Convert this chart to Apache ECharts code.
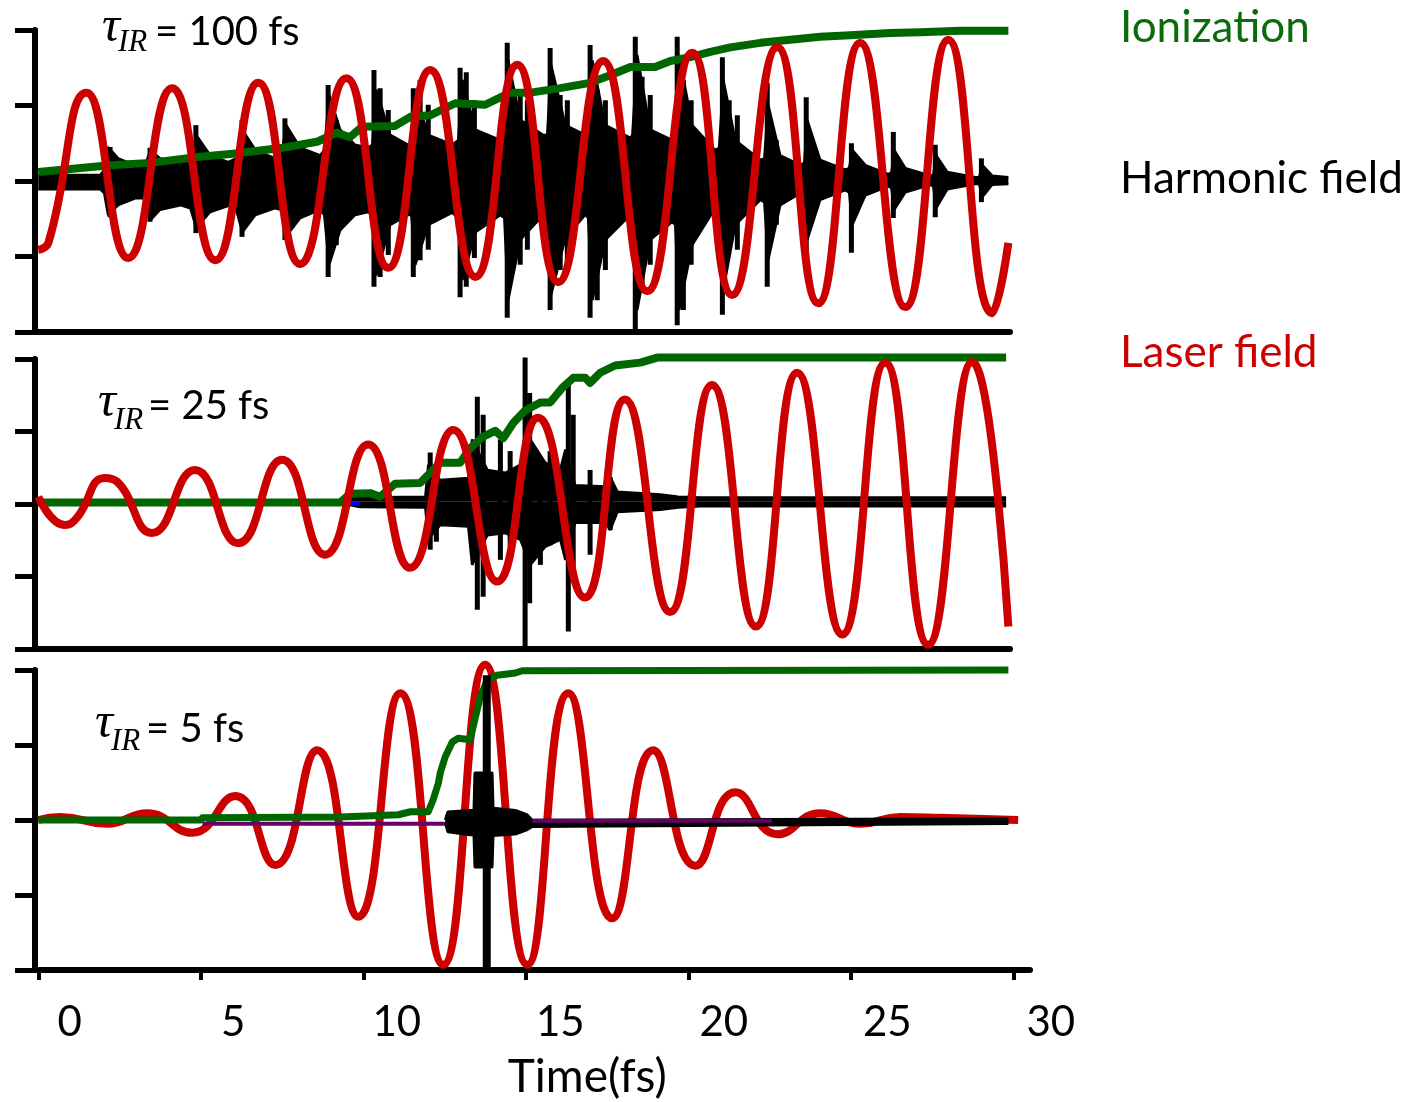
<!DOCTYPE html>
<html>
<head>
<meta charset="utf-8">
<script src="https://cdn.jsdelivr.net/npm/echarts@6.0.0/dist/echarts.min.js"></script>
<style>
  html, body { margin: 0; padding: 0; background: #fff; }
  #chart { width: 1414px; height: 1102px; }
</style>
</head>
<body>
<div id="chart"></div>
<script>
// time axis (fs)
const timeTicks = [0, 5, 10, 15, 20, 25, 30];

// ---- panel 1 : tau = 100 fs ----
const laser1 = [[0.00,-0.91],[0.31,-0.82],[1.48,1.17],[2.77,-1.02],[4.12,1.23],[5.45,-1.05],[6.77,1.30],[8.06,-1.10],
  [9.48,1.36],[10.77,-1.15],[12.06,1.47],[13.45,-1.27],[14.74,1.54],[16.00,-1.34],[17.38,1.59],[18.74,-1.46],
  [20.12,1.70],[21.35,-1.51],[22.74,1.77],[24.00,-1.62],[25.29,1.83],[26.68,-1.67],[28.00,1.87],[29.35,-1.75],[29.85,-0.82]];
const ion1 = [[0,0.12],[2.21,0.21],[3.44,0.24],[4.98,0.32],[5.99,0.36],[7.53,0.44],[8.58,0.52],[9.19,0.64],[9.59,0.58],
  [9.96,0.72],[10.98,0.73],[11.45,0.85],[12.06,0.87],[12.83,1.03],[13.75,1.01],[14.52,1.17],[15.14,1.17],[16.06,1.23],
  [16.98,1.30],[17.60,1.40],[18.22,1.51],[18.98,1.51],[19.45,1.59],[20.06,1.64],[20.68,1.71],[21.29,1.77],[22.22,1.83],
  [23.14,1.87],[24.06,1.91],[24.98,1.93],[26.22,1.96],[27.14,1.97],[28.37,1.99],[29.85,1.99]];
// harmonic field envelope: [t, upper, lower]
const harmBand1 = [[0,0.08,-0.11],[1.91,0.08,-0.11],[2.03,0.15,-0.16],[2.15,0.45,-0.45],[2.46,0.30,-0.32],[2.98,0.21,-0.23],
  [3.29,0.21,-0.23],[3.45,0.41,-0.52],[3.75,0.30,-0.38],[4.37,0.24,-0.32],[4.68,0.28,-0.36],[4.86,0.61,-0.62],[5.29,0.34,-0.41],
  [5.85,0.25,-0.33],[6.09,0.30,-0.38],[6.28,0.68,-0.68],[6.68,0.41,-0.45],[7.29,0.30,-0.36],[7.48,0.34,-0.38],[7.63,0.74,-0.73],
  [8.06,0.44,-0.49],[8.68,0.34,-0.38],[8.80,0.41,-0.45],[8.95,1.14,-1.11],[9.29,0.68,-0.65],[9.75,0.48,-0.45],[10.15,0.44,-0.41],
  [10.28,0.48,-0.45],[10.40,1.21,-1.25],[10.83,0.61,-0.58],[11.38,0.48,-0.45],[11.48,0.48,-0.45],[11.60,1.14,-1.11],
  [12.00,0.61,-0.58],[12.74,0.48,-0.42],[12.92,0.54,-0.49],[13.05,1.34,-1.31],[13.45,0.68,-0.68],[14.22,0.54,-0.45],
  [14.34,0.57,-0.49],[14.46,1.60,-1.58],[14.83,0.81,-0.78],[15.54,0.61,-0.45],[15.66,0.61,-0.49],[15.78,1.54,-1.51],
  [16.22,0.74,-0.75],[16.83,0.61,-0.45],[16.92,0.64,-0.49],[17.05,1.60,-1.58],[17.45,0.74,-0.78],[18.22,0.57,-0.45],
  [18.28,0.61,-0.52],[18.43,1.67,-1.71],[18.83,0.68,-0.78],[19.51,0.54,-0.54],[19.60,0.61,-0.58],[19.72,1.67,-1.71],
  [20.12,0.74,-0.85],[20.83,0.41,-0.36],[20.95,0.44,-0.38],[21.08,1.34,-1.44],[21.45,0.54,-0.58],[22.22,0.28,-0.25],
  [22.34,0.30,-0.28],[22.46,1.01,-1.05],[22.83,0.34,-0.32],[23.45,0.21,-0.16],[23.57,0.24,-0.19],[23.66,0.81,-0.78],
  [24.06,0.28,-0.25],[24.83,0.15,-0.12],[24.95,0.17,-0.15],[25.05,0.41,-0.58],[25.45,0.21,-0.19],[26.15,0.09,-0.07],
  [26.25,0.11,-0.09],[26.34,0.41,-0.38],[26.68,0.17,-0.15],[27.45,0.07,-0.05],[27.54,0.08,-0.07],[27.63,0.34,-0.36],
  [27.97,0.12,-0.11],[28.83,0.05,-0.04],[28.95,0.05,-0.04],[29.05,0.21,-0.21],[29.35,0.07,-0.05],[29.85,0.05,-0.04]];
const harmSpike1 = [[2.21,0.45,-0.48],[3.44,0.44,-0.54],[4.85,0.74,-0.69],[6.27,0.81,-0.74],[7.59,0.83,-0.78],
  [8.92,1.27,-1.27],[9.17,0.81,-0.85],[9.28,0.64,-0.65],[10.33,1.47,-1.40],[10.52,1.23,-1.27],[10.77,0.94,-0.98],
  [11.54,1.23,-1.27],[11.75,1.34,-1.05],[12.00,1.01,-0.91],[12.98,1.50,-1.54],[13.17,1.44,-1.40],[13.42,1.07,-1.02],
  [14.43,1.83,-1.81],[14.62,1.18,-1.09],[14.83,1.14,-1.11],[15.05,1.07,-0.91],[15.75,1.76,-1.71],[16.06,1.14,-1.18],
  [16.28,1.07,-1.07],[16.98,1.80,-1.81],[17.20,1.21,-1.58],[17.45,1.07,-1.18],[18.37,1.91,-1.97],[18.58,1.38,-1.48],
  [18.83,1.14,-1.11],[19.66,1.91,-1.91],[19.85,1.34,-1.71],[20.09,1.07,-1.11],[21.05,1.64,-1.77],[21.26,1.07,-0.65],
  [21.51,0.87,-0.91],[22.43,1.30,-1.40],[22.71,0.54,-0.58],[23.63,1.11,-0.95],[25.02,0.50,-0.95],[26.31,0.65,-0.49],
  [27.60,0.48,-0.48],[29.02,0.30,-0.28]];

// ---- panel 2 : tau = 25 fs ----
const laser2 = [[0,0.07],[0.82,-0.32],[1.19,-0.22],[2.05,0.33],[2.42,0.28],[3.50,-0.43],[4.82,0.44],[6.15,-0.57],
  [7.50,0.58],[8.82,-0.73],[10.15,0.79],[11.44,-0.91],[12.77,0.99],[14.12,-1.10],[15.38,1.16],[16.82,-1.32],
  [18.05,1.41],[19.44,-1.52],[20.73,1.61],[22.08,-1.72],[23.35,1.78],[24.74,-1.83],[26.06,1.92],[27.38,-1.97],
  [28.74,1.93],[29.85,-1.72]];
const ion2 = [[0,-0.01],[9.29,-0.01],[9.60,0.11],[10.21,0.12],[10.52,0.07],[10.98,0.25],[11.75,0.26],[12.06,0.40],
  [12.37,0.54],[12.98,0.54],[13.29,0.74],[13.69,0.90],[14.06,0.98],[14.31,0.88],[14.62,1.09],[14.98,1.26],[15.45,1.37],
  [15.75,1.37],[16.12,1.57],[16.46,1.71],[16.83,1.71],[16.98,1.64],[17.29,1.78],[17.75,1.88],[18.52,1.92],[19.05,1.99],
  [29.78,1.99]];
const harmBand2 = [[9.44,0.03,-0.03],[9.90,0.06,-0.07],[11.91,0.07,-0.08],[12.00,0.51,-0.52],[12.37,0.30,-0.32],
  [13.23,0.33,-0.34],[13.35,0.86,-0.87],[13.82,0.44,-0.46],[14.37,0.40,-0.43],[14.83,0.51,-0.52],[15.14,0.86,-0.87],
  [15.60,0.54,-0.62],[16.06,0.44,-0.52],[16.22,0.72,-0.80],[16.52,0.23,-0.29],[17.45,0.21,-0.29],[17.60,0.34,-0.39],
  [17.82,0.14,-0.14],[19.14,0.10,-0.11],[19.69,0.07,-0.08],[20.37,0.06,-0.06],[29.78,0.06,-0.06]];
const harmSpike2 = [[12.06,0.68,-0.66],[12.25,0.50,-0.55],[13.51,1.45,-1.49],[13.69,1.20,-1.31],[14.22,0.86,-0.80],
  [14.52,0.70,-0.60],[14.98,1.99,-2.01],[15.12,1.50,-1.40],[15.45,0.58,-0.87],[15.75,0.70,-0.60],[16.31,1.61,-1.79],
  [16.46,1.20,-1.10],[16.98,0.44,-0.73],[17.60,0.34,-0.39],[20.06,0.10,-0.11]];
const blue2 = [[9.23,-0.03],[9.90,-0.03]];

// ---- panel 3 : tau = 5 fs ----
const laser3 = [[0,0],[0.68,0.04],[2.12,-0.05],[3.35,0.09],[4.74,-0.17],[6.06,0.32],[7.29,-0.60],[8.58,0.93],
  [9.85,-1.29],[11.14,1.69],[12.46,-1.93],[13.75,2.07],[15.05,-1.93],[16.31,1.69],[17.66,-1.31],[18.92,0.93],
  [20.22,-0.61],[21.45,0.37],[22.74,-0.19],[24.06,0.09],[25.29,-0.05],[26.52,0.04],[27.75,0.03],[30.15,0]];
const ion3 = [[0,0],[5.0,0],[5.05,0.03],[9.29,0.04],[11.08,0.07],[11.45,0.11],[12.00,0.11],[12.15,0.27],[12.31,0.49],
  [12.37,0.63],[12.52,0.84],[12.74,1.04],[12.92,1.09],[13.29,1.07],[13.45,1.37],[13.60,1.64],[13.82,1.87],[14.12,1.93],
  [14.68,1.96],[14.89,1.99],[29.85,2.00]];
const harmBand3 = [[12.52,0,-0.04],[12.60,0.11,-0.16],[13.29,0.13,-0.20],[13.40,0.13,-0.20],[13.43,0.63,-0.63],
  [13.97,0.63,-0.63],[14.00,0.16,-0.21],[14.68,0.13,-0.19],[15.05,0.07,-0.13],[15.20,0.00,-0.09],[29.85,0.02,-0.05]];
const harmSpike3 = [[13.80,1.93,-2.00]];
const purple3a = [[5.05,-0.05],[12.52,-0.05]];
const purple3b = [[15.20,-0.01],[22.58,-0.01]];

const chart = echarts.init(document.getElementById('chart'));

const LATO = 'Lato';
const SERIF = 'Liberation Serif';

function xAxisFor(gi, max, ticks) {
  return {
    gridIndex: gi, type: 'value', min: -0.1, max: max,
    axisLine: { show: true, onZero: false, lineStyle: { color: '#000', width: 6 } },
    axisTick: { show: ticks, customValues: timeTicks, length: 10, lineStyle: { color: '#000', width: 4 } },
    axisLabel: { show: false }, splitLine: { show: false }
  };
}
function yAxisFor(gi, min, max) {
  return {
    gridIndex: gi, type: 'value', min: min, max: max, interval: 1,
    axisLine: { show: true, onZero: false, lineStyle: { color: '#000', width: 6 } },
    axisTick: { show: true, inside: false, length: 20, lineStyle: { color: '#000', width: 5 } },
    axisLabel: { show: false }, splitLine: { show: false }
  };
}
function bandSeries(band, gi, z) {
  const base = {
    type: 'line', xAxisIndex: gi, yAxisIndex: gi, symbol: 'none', clip: false, z: z,
    lineStyle: { color: '#000', width: 2.5 }, areaStyle: { color: '#000', opacity: 1 }
  };
  return [
    Object.assign({}, base, { data: band.map(d => [d[0], d[1]]) }),
    Object.assign({}, base, { data: band.map(d => [d[0], d[2]]) })
  ];
}
function spikeSeries(spikes, gi, width, z) {
  return {
    type: 'custom', xAxisIndex: gi, yAxisIndex: gi, z: z, clip: false,
    data: spikes, encode: { x: 0, y: [1, 2] },
    renderItem: function (params, api) {
      const a = api.coord([api.value(0), api.value(1)]);
      const b = api.coord([api.value(0), api.value(2)]);
      return { type: 'line', shape: { x1: a[0], y1: a[1], x2: b[0], y2: b[1] },
        style: { stroke: '#000', lineWidth: width, lineCap: 'butt' } };
    }
  };
}
function lineSeries(data, gi, color, width, smooth, z) {
  return { type: 'line', xAxisIndex: gi, yAxisIndex: gi, data: data, symbol: 'none', smooth: smooth,
    clip: false, z: z, lineStyle: { color: color, width: width, join: 'round' } };
}

const RED = '#cc0000', GREEN = '#006600';

function tauLabel(x, yTau, ySub, xRest, yRest, rest) {
  return [
    { type: 'text', x: x, y: yTau, style: { text: 'τ', fontFamily: SERIF, fontStyle: 'italic', fontSize: 50, fill: '#000', verticalAlign: 'middle' } },
    { type: 'text', x: x + 16, y: ySub, style: { text: 'IR', fontFamily: SERIF, fontStyle: 'italic', fontSize: 31, fill: '#000', verticalAlign: 'middle' } },
    { type: 'text', x: xRest, y: yRest, style: { text: rest, fontFamily: LATO, fontSize: 40, fill: '#000', verticalAlign: 'middle' } }
  ];
}

const option = {
  animation: false,
  backgroundColor: '#fff',
  grid: [
    { left: 35, top: 30, width: 975, height: 302 },
    { left: 35, top: 359, width: 975, height: 290 },
    { left: 35, top: 670, width: 995, height: 300 },
    { left: 69.8, top: 670, width: 981, height: 300 }
  ],
  xAxis: [
    xAxisFor(0, 29.9, false),
    xAxisFor(1, 29.9, false),
    xAxisFor(2, 30.515, true),
    {
      gridIndex: 3, type: 'value', min: 0, max: 30, interval: 5,
      axisLine: { show: false }, axisTick: { show: false }, splitLine: { show: false },
      axisLabel: { show: true, margin: 31, color: '#000', fontFamily: LATO, fontSize: 42, showMinLabel: true, showMaxLabel: true },
      name: 'Time(fs)', nameLocation: 'middle', nameGap: 84,
      nameTextStyle: { color: '#000', fontFamily: LATO, fontSize: 46, padding: [0, 0, 0, 54] }
    }
  ],
  yAxis: [
    yAxisFor(0, -2, 2),
    yAxisFor(1, -2.03, 1.97),
    yAxisFor(2, -2, 2),
    { gridIndex: 3, type: 'value', min: 0, max: 1, show: false }
  ],
  series: [
    ...bandSeries(harmBand1, 0, 2),
    spikeSeries(harmSpike1, 0, 5, 2),
    lineSeries(ion1, 0, GREEN, 8, false, 3),
    lineSeries(laser1, 0, RED, 8, 0.5, 4),

    ...bandSeries(harmBand2, 1, 2),
    spikeSeries(harmSpike2, 1, 5, 2),
    lineSeries(blue2, 1, '#0000ee', 4, false, 2),
    lineSeries(ion2, 1, GREEN, 8, false, 3),
    lineSeries(laser2, 1, RED, 8, 0.5, 4),

    lineSeries(laser3, 2, RED, 8, 0.5, 2),
    lineSeries(ion3, 2, GREEN, 7, false, 3),
    lineSeries(purple3a, 2, '#660066', 4, false, 3),
    ...bandSeries(harmBand3, 2, 4),
    lineSeries(purple3b, 2, '#660066', 4, false, 5),
    spikeSeries(harmSpike3, 2, 8, 6)
  ],
  graphic: [
    ...tauLabel(102, 28, 43, 155, 32, '= 100 fs'),
    ...tauLabel(98, 403, 421, 148, 406, '= 25 fs'),
    ...tauLabel(95, 724, 742, 146, 729, '= 5 fs'),
    { type: 'text', x: 1120, y: 28, style: { text: 'Ionization', fontFamily: LATO, fontSize: 44, fill: '#0a6b0a', verticalAlign: 'middle' } },
    { type: 'text', x: 1120, y: 179, style: { text: 'Harmonic field', fontFamily: LATO, fontSize: 44, fill: '#000', verticalAlign: 'middle' } },
    { type: 'text', x: 1120, y: 353, style: { text: 'Laser field', fontFamily: LATO, fontSize: 44, fill: RED, verticalAlign: 'middle' } }
  ]
};

chart.setOption(option);
</script>
</body>
</html>
